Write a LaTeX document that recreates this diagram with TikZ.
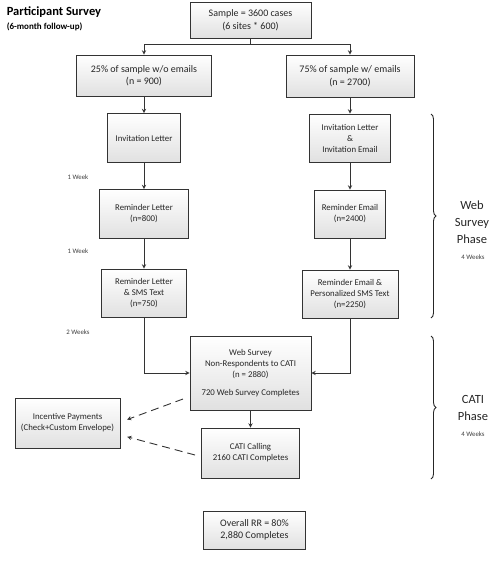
\documentclass[tikz,border=0pt]{standalone}
\usepackage{fontspec}
\setmainfont{Carlito}
\usetikzlibrary{decorations.pathreplacing}
\tikzset{bx/.style = {draw=black!80, top color=white, bottom color=black!12, inner sep=0pt,
                      align=center, text=black!85, font=\fontsize{10}{12.5}\selectfont},
           sbx/.style = {bx, font=\fontsize{8.8}{11}\selectfont},
           wk/.style = {text=black!75, font=\fontsize{6.8}{8}\selectfont},
           ph/.style = {align=center, text=black!85, font=\fontsize{12.5}{17}\selectfont},
           dsh/.style = {->, dashed, dash pattern=on 8pt off 5pt, draw=black!80}}

\begin{document}
\begin{tikzpicture}[x=1pt, y=-1pt, >=stealth, line width=0.9pt]
    \useasboundingbox (0,0) rectangle (500,563);
    \node[anchor=west, font=\fontsize{12.5}{14}\selectfont\bfseries] (title) at (3,12) {Participant Survey};
    \node[anchor=west, font=\fontsize{9}{11}\selectfont\bfseries] (sub) at (3,27) {(6-month follow-up)};
    \node[bx, minimum width=121, minimum height=36] (sample) at (250.5,20) {Sample = 3600 cases\\(6 sites * 600)};
    \node[bx, minimum width=135, minimum height=41] (p25) at (144,75.5) {25\% of sample w/o emails\\(n = 900)};
    \node[bx, minimum width=128, minimum height=42] (p75) at (350,76) {75\% of sample w/ emails\\(n = 2700)};
    \node[sbx, minimum width=73, minimum height=49] (invL) at (144,138) {Invitation Letter};
    \node[sbx, minimum width=81, minimum height=48] (invLE) at (350,138) {Invitation Letter\\\&\\Invitation Email};
    \node[sbx, minimum width=89, minimum height=49] (remL) at (144,214) {Reminder Letter\\(n=800)};
    \node[sbx, minimum width=71, minimum height=48] (remE) at (350,214) {Reminder Email\\(n=2400)};
    \node[sbx, minimum width=85, minimum height=48] (remLS) at (144,293) {Reminder Letter\\\& SMS Text\\(n=750)};
    \node[sbx, minimum width=96, minimum height=48] (remES) at (350,294) {Reminder Email \&\\Personalized SMS Text\\(n=2250)};
    \node[sbx, minimum width=121, minimum height=74] (web) at (250.5,373) {Web Survey\\Non-Respondents to CATI\\(n = 2880)\\[7pt]720 Web Survey Completes};
    \node[sbx, minimum width=98, minimum height=50] (cati) at (250.5,453) {CATI Calling\\2160 CATI Completes};
    \node[sbx, minimum width=105, minimum height=50] (incent) at (67.5,423) {Incentive Payments\\(Check+Custom Envelope)};
    \node[bx, minimum width=102, minimum height=38] (overall) at (254.5,530) {Overall RR = 80\%\\2,880 Completes};
    \node[wk] (w1) at (78,177) {1 Week};
    \node[wk] (w2) at (78,251) {1 Week};
    \node[wk] (w3) at (78,332) {2 Weeks};
    \node[ph] (webph) at (472,222) {Web\\Survey\\Phase};
    \node[wk] (webwk) at (473,257) {4 Weeks};
    \node[ph] (catiph) at (473,408) {CATI\\Phase};
    \node[wk] (catiwk) at (473,434) {4 Weeks};
    \coordinate (split) at (250.5,44);
    \coordinate (d1) at (183,399);
    \coordinate (d2) at (195,455);
    \draw[black!80] (sample) -- (split);
    \draw[->, black!80] (split) -| (p25);
    \draw[->, black!80] (split) -| (p75);
    \draw[->, black!80] (p25) -- (invL);
    \draw[->, black!80] (p75) -- (invLE);
    \draw[->, black!80] (invL) -- (remL);
    \draw[->, black!80] (invLE) -- (remE);
    \draw[->, black!80] (remL) -- (remLS);
    \draw[->, black!80] (remE) -- (remES);
    \draw[->, black!80] (remLS) |- (web);
    \draw[->, black!80] (remES) |- (web);
    \draw[->, black!80] (web) -- (cati);
    \draw[dsh, shorten >=7pt] (d1) -- ([yshift=1pt]incent.east);
    \draw[dsh, shorten >=7pt] (d2) -- ([yshift=-12pt]incent.east);
    % phase braces
    \draw[black!85, decorate, decoration={brace, amplitude=5pt}] (431,114) -- (431,318);
    \draw[black!85, decorate, decoration={brace, amplitude=5pt}] (431,336) -- (431,479);
  \end{tikzpicture}
\end{document}
